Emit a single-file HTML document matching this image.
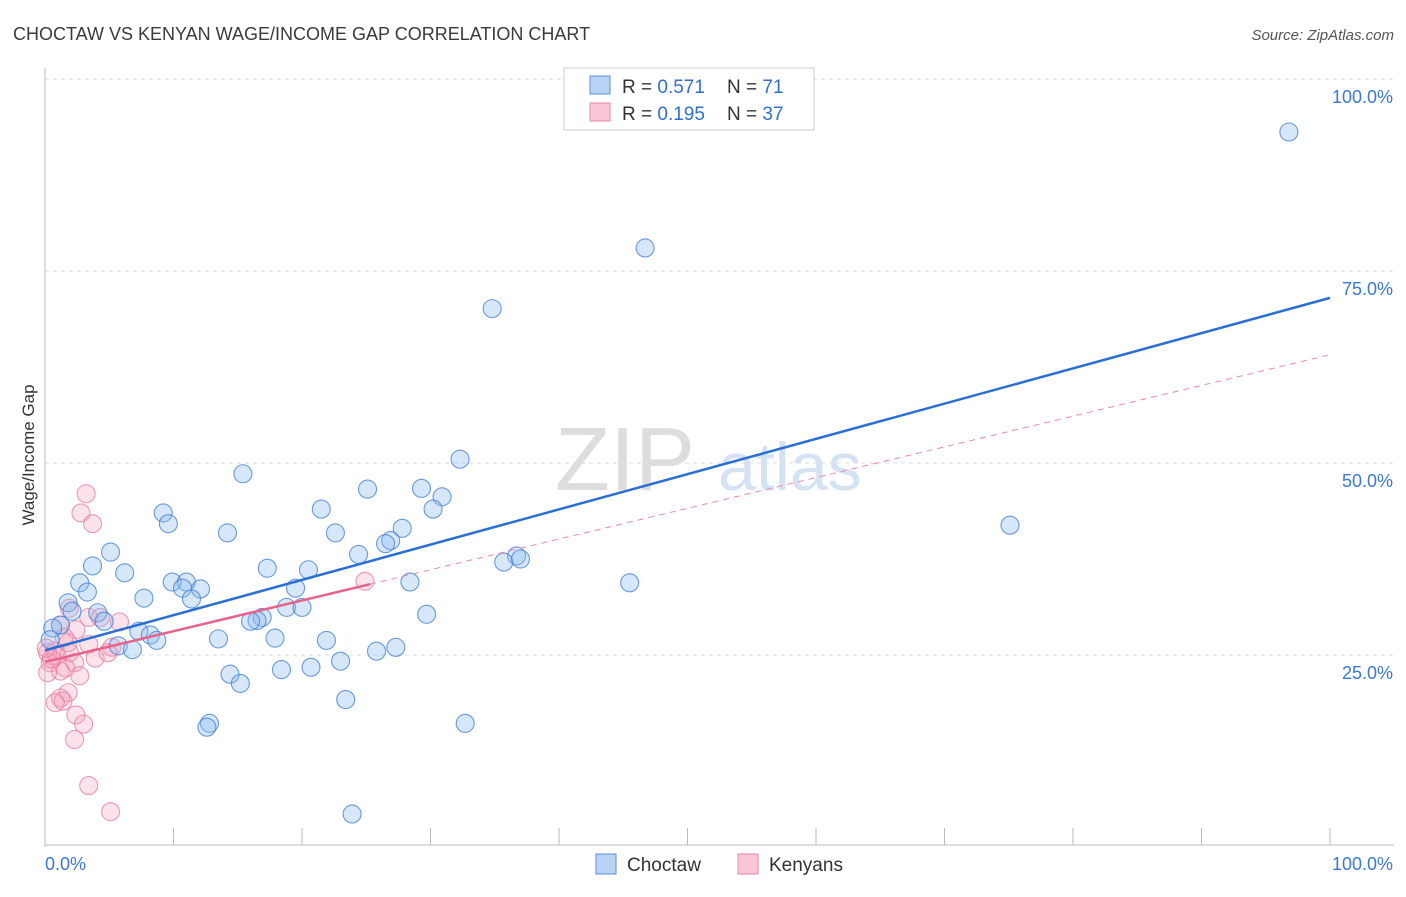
<!DOCTYPE html>
<html><head><meta charset="utf-8"><style>
body{margin:0;background:#fff;font-family:"Liberation Sans",sans-serif}
svg text{font-family:"Liberation Sans",sans-serif}
</style></head><body>
<svg id="chart" width="1406" height="892">
<text x="13" y="40" font-size="18" fill="#3a3a3a">CHOCTAW VS KENYAN WAGE/INCOME GAP CORRELATION CHART</text>
<text x="1394" y="40" font-size="15" fill="#555" text-anchor="end" font-style="italic">Source: ZipAtlas.com</text>
<text x="34" y="455" font-size="17" fill="#333" text-anchor="middle" transform="rotate(-90 34 455)">Wage/Income Gap</text>
<text x="555" y="490" font-size="90" fill="#ddd" font-family="Liberation Serif">ZIP</text>
<text x="718" y="490" font-size="68" fill="#d4e2f3">atlas</text>
<g id="grid"></g><g id="marks"></g>
<g>
<rect x="564" y="68" width="250" height="62" fill="#fff" stroke="#ccc"/>
<rect x="590" y="76" width="20" height="18" fill="#b9d3f5" stroke="#5b8fdc"/>
<rect x="590" y="103" width="20" height="18" fill="#f8c6d5" stroke="#e58aa6"/>
<text x="622" y="93" font-size="19" fill="#333">R = <tspan fill="#2f6fd6">0.571</tspan></text>
<text x="727" y="93" font-size="19" fill="#333">N = <tspan fill="#2f6fd6">71</tspan></text>
<text x="622" y="120" font-size="19" fill="#333">R = <tspan fill="#2f6fd6">0.195</tspan></text>
<text x="727" y="120" font-size="19" fill="#333">N = <tspan fill="#2f6fd6">37</tspan></text>
</g>
<g>
<rect x="596" y="854" width="20" height="20" fill="#b9d3f5" stroke="#5b8fdc"/>
<text x="627" y="871" font-size="19" fill="#333">Choctaw</text>
<rect x="738" y="854" width="20" height="20" fill="#f8c6d5" stroke="#e58aa6"/>
<text x="769" y="871" font-size="19" fill="#333">Kenyans</text>
</g>
</svg>
<script>
const yTicks=[25,50,75,100];
const yTickLabels=["25.0%","50.0%","75.0%","100.0%"];
const xTickLabels=["0.0%","100.0%"];
const blueX=[96.8,46.7,34.8,15.4,32.3,25.1,29.3,30.9,30.2,21.5,9.2,9.6,14.2,22.6,27.8,26.9,26.5,24.4,5.1,3.7,6.2,2.7,36.7,35.7,37.0,17.3,20.5,3.3,7.7,9.9,11.0,10.7,12.1,11.4,19.5,28.4,45.5,75.1,1.8,2.1,4.1,4.6,1.2,0.6,18.8,20.0,29.7,16.9,16.5,16.0,7.3,8.2,8.7,13.5,17.9,21.9,5.7,6.8,27.3,25.8,23.0,20.7,18.4,14.4,15.2,23.4,12.8,12.6,32.7,23.9,0.4];
const blueY=[93.1,78.0,70.1,48.6,50.5,46.6,46.7,45.6,44.0,44.0,43.5,42.1,40.9,40.9,41.5,39.9,39.5,38.1,38.4,36.6,35.7,34.4,37.9,37.1,37.5,36.3,36.1,33.2,32.4,34.5,34.5,33.7,33.6,32.3,33.7,34.5,34.4,41.9,31.8,30.7,30.5,29.4,28.9,28.5,31.2,31.2,30.3,29.9,29.5,29.4,28.1,27.6,26.9,27.1,27.2,26.9,26.2,25.7,26.0,25.5,24.2,23.4,23.1,22.5,21.3,19.2,16.1,15.6,16.1,4.3,27.0];
const pinkX=[3.2,2.8,3.7,1.9,5.8,3.4,1.2,2.4,4.3,24.9,1.8,3.4,0.8,0.2,1.9,5.2,3.9,4.9,0.4,2.3,1.6,1.2,2.7,0.2,1.8,1.2,1.4,0.8,2.4,3.0,2.3,3.4,5.1,0.9,0.5,0.1,1.5];
const pinkY=[46.0,43.5,42.1,31.1,29.3,29.9,28.9,28.3,29.9,34.6,26.6,26.4,25.5,25.3,25.3,26.0,24.6,25.3,24.0,24.0,23.3,22.9,22.3,22.7,20.1,19.4,19.0,18.8,17.2,16.0,14.0,8.0,4.6,24.9,24.5,25.9,27.3];
const blueFit=[25.6,71.5];
const pinkFit=[24.1,64.1];
const pinkSolidEnd=25.3;
const X0=45,X1=1330,Y0=847,Y100=79;
const xs=v=>X0+(X1-X0)*v/100, ys=v=>Y0-(Y0-Y100)*v/100;
const NS="http://www.w3.org/2000/svg";
function mk(t,a,p){const e=document.createElementNS(NS,t);for(const k in a)e.setAttribute(k,a[k]);p.appendChild(e);return e;}
const grid=document.getElementById('grid'),marks=document.getElementById('marks');
yTicks.forEach((t,i)=>{
 const l=mk('line',{x1:X0,x2:1394,y1:ys(t),y2:ys(t),stroke:'#ddd','stroke-dasharray':'4,4'},grid);
 
 
 const tx=mk('text',{x:1393,y:ys(t)+24,'font-size':18,fill:'#3a78d8','text-anchor':'end'},grid);
 tx.textContent=yTickLabels[i];
 
 
});
mk('line',{x1:X0,x2:X0,y1:68,y2:Y0,stroke:'#bbb'},grid);
mk('line',{x1:X0,x2:1394,y1:Y0-2,y2:Y0-2,stroke:'#bbb'},grid);
for(let i=0;i<=10;i++){mk('line',{x1:xs(i*10),x2:xs(i*10),y1:828,y2:Y0-2,stroke:'#bbb'},grid);}
[[0,'start',45],[100,'end',1393]].forEach((d,i)=>{
 const tx=mk('text',{x:d[2],y:870,'font-size':18,fill:'#3a78d8','text-anchor':d[1]},grid);
 tx.textContent=xTickLabels[i];
 
 
});
pinkX.forEach((x,i)=>{
 const c=mk('circle',{cx:xs(x),cy:ys(pinkY[i]),r:9,fill:'rgba(244,160,185,0.3)',stroke:'rgba(232,130,160,0.8)','stroke-width':1.1},marks);
 
 
});
blueX.forEach((x,i)=>{
 const c=mk('circle',{cx:xs(x),cy:ys(blueY[i]),r:9,fill:'rgba(140,185,240,0.35)',stroke:'rgba(70,130,215,0.8)','stroke-width':1.1},marks);
 
 
});
const pAt=x=>pinkFit[0]+(pinkFit[1]-pinkFit[0])*x/100;
const pd=mk('line',{x1:xs(pinkSolidEnd),y1:ys(pAt(pinkSolidEnd)),x2:xs(100),y2:ys(pinkFit[1]),stroke:'#e88aa6','stroke-width':1,'stroke-dasharray':'6,5'},marks);


const ps=mk('line',{x1:xs(0),y1:ys(pinkFit[0]),x2:xs(pinkSolidEnd),y2:ys(pAt(pinkSolidEnd)),stroke:'#e8628c','stroke-width':2.5},marks);


const bl=mk('line',{x1:xs(0),y1:ys(blueFit[0]),x2:xs(100),y2:ys(blueFit[1]),stroke:'#2a6fd6','stroke-width':2.5},marks);


</script>
</body></html>
